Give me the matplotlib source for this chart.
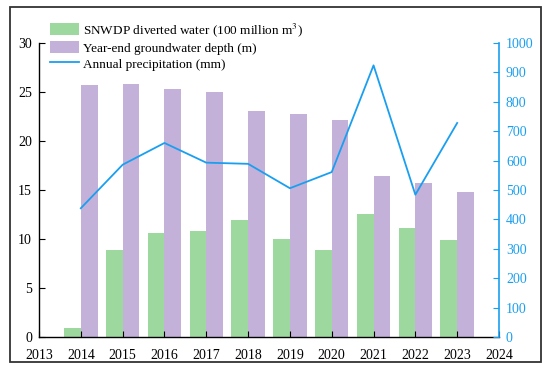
import matplotlib
matplotlib.use("Agg")
import matplotlib.pyplot as plt
import matplotlib.patches as mpatches
import numpy as np

years = [2014, 2015, 2016, 2017, 2018, 2019, 2020, 2021, 2022, 2023]
diverted = [0.89, 8.86, 10.66, 10.84, 11.96, 9.95, 8.86, 12.55, 11.11, 9.85]
gw_depth = [25.73, 25.80, 25.33, 25.05, 23.10, 22.77, 22.12, 16.46, 15.67, 14.80]
precip = [438, 586, 660, 593, 589, 506, 561, 924, 484, 728]
xticks = list(range(2013, 2025))

plt.rcParams['font.family'] = ['Liberation Serif', 'DejaVu Serif']
plt.rcParams['mathtext.fontset'] = 'stix'

green = '#9dd89e'
purple = '#c3b1d9'
blue = '#1a9ff0'

fig = plt.figure(figsize=(5.5, 3.7), dpi=100)
ax = fig.add_axes([39/550, 1-337/370, (499-39)/550, (337-43)/370])
ax2 = ax.twinx()

x = np.array(years)
w = 0.4
b1 = ax.bar(x - w/2, diverted, width=w, color=green, label='SNWDP diverted water (100 million m$^3$)')
b2 = ax.bar(x + w/2, gw_depth, width=w, color=purple, label='Year-end groundwater depth (m)')
l1, = ax2.plot(x, precip, color=blue, lw=1.3, label='Annual precipitation (mm)')

ax.set_xlim(2013, 2024)
ax.set_ylim(0, 30)
ax2.set_ylim(0, 1000)
ax.set_xticks(xticks)
ax.set_yticks(range(0, 31, 5))
ax2.set_yticks(range(0, 1001, 100))

for a in (ax, ax2):
    a.spines['top'].set_visible(False)
ax.spines['right'].set_visible(False)
ax2.spines['left'].set_visible(False)
ax2.spines['bottom'].set_visible(False)
ax2.spines['right'].set_color(blue)
ax2.spines['right'].set_linewidth(1.2)
ax.spines['left'].set_linewidth(1.0)
ax.spines['bottom'].set_linewidth(1.0)

ax.tick_params(axis='x', direction='in', length=4, labelsize=10, colors='black', pad=8.5)
ax.tick_params(axis='y', direction='in', length=4, labelsize=10, colors='black', pad=5)
ax2.tick_params(axis='y', direction='in', length=4, labelsize=10, colors=blue, pad=5)

ax.legend(handles=[b1, b2, l1], loc='upper left', bbox_to_anchor=(50/550, 1-21/370),
          bbox_transform=fig.transFigure, frameon=False, fontsize=9.5,
          borderpad=0, borderaxespad=0, labelspacing=0.2, handlelength=2.2,
          handleheight=1.0, handletextpad=0.3)

frame = mpatches.Rectangle((10/550, 1-362/370), (541-10)/550, (362-7)/370,
                           transform=fig.transFigure, fill=False, edgecolor='#333333', lw=1.3)
fig.patches.append(frame)

fig.savefig('out.png', dpi=100)
